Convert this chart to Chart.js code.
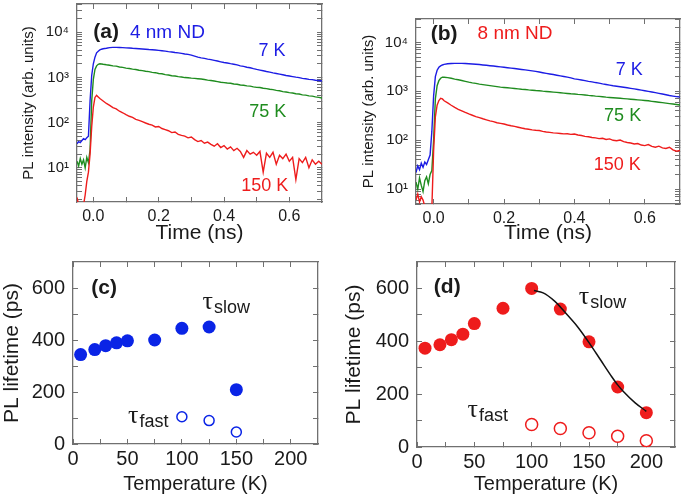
<!DOCTYPE html>
<html>
<head>
<meta charset="utf-8">
<script src="https://cdn.jsdelivr.net/npm/chart.js@4.4.1/dist/chart.umd.min.js"></script>
<style>
  body { margin: 0; background: #fff; }
  #wrap { position: relative; width: 685px; height: 501px; }
  canvas { position: absolute; }
</style>
</head>
<body>
<div id="wrap">
  <canvas id="panelA" width="340" height="250" style="left:0;top:0"></canvas>
  <canvas id="panelB" width="345" height="250" style="left:340px;top:0"></canvas>
  <canvas id="panelC" width="340" height="251" style="left:0;top:250px"></canvas>
  <canvas id="panelD" width="345" height="251" style="left:340px;top:250px"></canvas>
</div>
<script>
// time grid of the decay traces (ns)
const timeNs = [-0.05,-0.045,-0.04,-0.035,-0.03,-0.025,-0.02,-0.015,-0.01,-0.005,0,0.005,0.01,0.015,0.02,0.025,0.03,
  0.04,0.05,0.06,0.07,0.08,0.09,0.10,0.11,0.12,0.13,0.14,0.15,0.16,0.17,0.18,0.19,0.20,
  0.21,0.22,0.23,0.24,0.25,0.26,0.27,0.28,0.29,0.30,0.31,0.32,0.33,0.34,0.35,0.36,0.37,0.38,0.39,0.40,
  0.41,0.42,0.43,0.44,0.45,0.46,0.47,0.48,0.49,0.50,0.51,0.52,0.53,0.54,0.55,0.56,0.57,0.58,0.59,0.60,
  0.61,0.62,0.63,0.64,0.65,0.66,0.67,0.68,0.69,0.70];

// (a) 4 nm ND
const a7K = [34,38,36,40,44,42,46,50,300,1100,2000,2800,3500,3800,4050,4200,4300,
  4400,4550,4600,4620,4590,4560,4500,4460,4400,4360,4300,4250,4200,4130,4080,4020,3950,
  3880,3810,3720,3650,3560,3490,3400,3300,3220,3100,2950,2800,2700,2630,2540,2470,2380,2300,2210,2130,
  2080,2010,1950,1890,1800,1750,1680,1630,1560,1500,1450,1400,1350,1310,1260,1220,1180,1140,1100,1070,
  1040,1010,985,950,930,905,890,865,850,830];
const a75K = [14,11,16,12,15,10,17,13,25,300,900,1500,1800,1950,2000,1980,1950,
  1900,1860,1800,1770,1700,1660,1600,1570,1520,1490,1440,1410,1370,1340,1290,1270,1220,
  1200,1150,1130,1090,1070,1040,1020,990,980,960,950,935,920,895,870,855,830,805,780,765,
  750,740,715,705,680,670,650,640,615,600,595,575,565,545,535,515,505,485,475,460,
  450,435,428,410,405,390,385,370,362,350];
const a150K = [2.2,1.5,1.2,1.3,1.5,2.5,5,8,20,80,220,360,400,370,340,320,300,
  265,240,215,200,178,165,150,138,130,118,112,105,98,92,88,80,82,
  74,70,66,60,62,55,52,50,46,48,42,38,40,35,37,33,30,34,28,31,
  26,29,24,27,23,17,24,20,22,19,23,8,21,17,22,12,19,16,20,14,
  17,5.5,16,13,17,10,15,12,14,12];

// (b) 8 nm ND
const b7K = [22,30,25,34,28,36,32,40,50,150,800,2000,2700,3100,3300,3450,3550,
  3650,3700,3720,3730,3720,3700,3660,3620,3570,3520,3460,3400,3340,3280,3220,3160,3100,
  3040,2980,2920,2860,2800,2740,2680,2620,2550,2480,2400,2330,2260,2200,2130,2070,2010,1950,1880,1800,
  1750,1700,1650,1600,1560,1510,1470,1420,1380,1340,1300,1270,1240,1210,1180,1150,1120,1090,1060,1030,
  1000,970,940,910,880,850,820,800,780,760];
const b75K = [14,10,17,12,9,15,18,13,20,24,100,700,1300,1650,1850,1950,1940,
  1900,1850,1780,1720,1660,1600,1540,1490,1450,1400,1370,1340,1310,1280,1250,1220,1200,
  1180,1160,1140,1120,1100,1090,1070,1055,1040,1030,1010,995,980,965,950,935,920,905,890,880,
  865,855,840,825,815,800,790,775,760,750,740,730,720,710,700,690,680,670,660,650,
  640,625,612,600,588,575,562,550,538,525];
const b150K = [6,8,5.5,7,6,4.5,4,3,3,4,60,300,520,650,720,700,640,
  580,520,470,430,400,370,345,325,305,290,275,262,250,240,228,222,215,
  205,198,192,185,178,172,168,163,160,158,152,148,145,142,140,138,135,136,132,134,
  128,125,120,118,114,112,108,110,104,107,100,98,101,94,90,88,84,86,80,78,
  82,75,72,76,70,68,72,64,60,62];

// (c) lifetimes, 4 nm ND
const tempC = [7,20,30,40,50,75,100,125,150];
const slowC = [344,363,378,389,397,400,445,450,209];
const tempFastC = [100,125,150];
const fastC = [105,90,46];

// (d) lifetimes, 8 nm ND
const tempD = [7,20,30,40,50,75,100,125,150,175,200];
const slowD = [374,387,406,427,467,525,600,522,398,227,130];
const tempFastD = [100,125,150,175,200];
const fastD = [85,70,54,41,24];
const fitTempD = [102,110,120,125,130,140,150,160,170,175,180,190,200];
const fitD = [592,583,552,530,505,455,395,330,265,235,210,168,135];

// ticks (labelled + unlabelled minor)
const timeTicks = [0, 0.2, 0.4, 0.6];
const timeMinor = [0.1, 0.3, 0.5];
const logTicks = [10, 100, 1000, 10000];
const logMinor = [2,3,4,5,6,7,8,9,20,30,40,50,60,70,80,90,200,300,400,500,600,700,800,900,
  2000,3000,4000,5000,6000,7000,8000,9000,20000,30000,40000];
const tempTicks = [0, 50, 100, 150, 200];
const tempMinor = [25, 75, 125, 175];
const lifeTicks = [0, 200, 400, 600];
const lifeMinor = [100, 300, 500];

const SANS = 'Liberation Sans, Arial, sans-serif';
const BLUE = '#1c1ce4', GREEN = '#1f8c1f', RED = '#ee1c1c', INK = '#1a1a1a', FRAME = '#707070';
const SUP = {10: '10\u00b9', 100: '10\u00b2', 1000: '10\u00b3', 10000: '10\u2074'};

const pts = (xs, ys) => xs.map((x, i) => ({x, y: ys[i]}));

// text annotations placed in data coordinates
const textPlugin = {
  id: 'notes',
  afterDraw(chart) {
    const {ctx, scales} = chart;
    ctx.save();
    chart.$notes.forEach(it => {
      const x = scales.x.getPixelForValue(it.x);
      const y = scales.y.getPixelForValue(it.y);
      ctx.fillStyle = it.color || INK;
      if (it.sub) {
        ctx.textAlign = 'left';
        ctx.textBaseline = 'alphabetic';
        ctx.font = '26px Liberation Serif, Times New Roman, serif';
        ctx.fillText('\u03c4', x, y);
        const w = ctx.measureText('\u03c4').width;
        ctx.font = '18px ' + SANS;
        ctx.fillText(it.sub, x + w + 1, y + 4);
      } else {
        ctx.textAlign = it.align || 'center';
        ctx.textBaseline = 'middle';
        ctx.font = (it.bold ? 'bold ' : '') + (it.size || 18) + 'px ' + SANS;
        ctx.fillText(it.text, x, y);
      }
    });
    ctx.restore();
  }
};
let pendingNotes = [];
const storePlugin = {id: 'store', beforeInit(c) { c.$notes = pendingNotes; }};

// axis box sizes are fixed so the plot area lands where the figure has it
const fixY = w => s => { s.width = w; s.paddingTop = 0; s.paddingBottom = 0; };
const fixX = h => s => { s.height = h; s.paddingLeft = 0; s.paddingRight = 0; };
const setTicks = vals => s => {
  s.ticks = vals.filter(v => v >= s.min && v <= s.max).map(v => ({value: v}));
};

// the frame: every side is an axis with its border shown and inward tick marks
const frameGrid = {display: true, drawOnChartArea: false, drawTicks: true, tickLength: -5, color: FRAME, lineWidth: 1};
const frameBorder = {display: true, color: FRAME, width: 1.3};

function axis(base, position, tickVals, size, labelled) {
  const horiz = position === 'top' || position === 'bottom';
  return Object.assign({
    position,
    afterBuildTicks: setTicks(tickVals),
    afterFit: horiz ? fixX(size) : fixY(size),
    grid: frameGrid,
    border: frameBorder
  }, base, labelled ? {} : {ticks: {display: false}, title: {display: false}});
}

function makeChart(id, type, datasets, box, xBase, yBase, xVals, yVals, notes) {
  pendingNotes = notes;
  return new Chart(document.getElementById(id), {
    type,
    data: {datasets},
    options: {
      responsive: false,
      animation: false,
      devicePixelRatio: 1,
      layout: {padding: {left: 0, top: box.top, right: box.right, bottom: 0}},
      plugins: {legend: {display: false}, tooltip: {enabled: false}},
      scales: {
        x: axis(xBase, 'bottom', xVals, box.xh, true),
        x2: axis(xBase, 'top', xVals, 0, false),
        y: axis(yBase, 'left', yVals, box.yw, true),
        y2: axis(yBase, 'right', yVals, 0, false)
      }
    },
    plugins: [storePlugin, textPlugin]
  });
}

function decayChart(id, traces, yMin, yMax, box, notes) {
  const datasets = traces.map(t => ({
    data: pts(timeNs, t.values),
    borderColor: t.color,
    borderWidth: 1.4,
    pointRadius: 0,
    tension: 0
  }));
  const xBase = {
    type: 'linear', min: -0.05, max: 0.7,
    ticks: {autoSkip: false, maxRotation: 0, padding: 10, color: INK, font: {family: SANS, size: 16},
      callback: v => timeTicks.includes(v) ? v.toFixed(1) : ''},
    title: {display: true, text: 'Time (ns)', color: INK, font: {family: SANS, size: 21}, padding: {top: 0, bottom: 4}}
  };
  const yBase = {
    type: 'logarithmic', min: yMin, max: yMax,
    ticks: {autoSkip: false, padding: 13, color: INK, font: {family: SANS, size: 15},
      callback: v => SUP[v] || ''},
    title: {display: true, text: 'PL intensity (arb. units)', color: INK, font: {family: SANS, size: 15}, padding: {top: 20, bottom: 0}}
  };
  return makeChart(id, 'line', datasets, box, xBase, yBase,
    timeTicks.concat(timeMinor), logTicks.concat(logMinor), notes);
}

function lifetimeChart(id, datasets, box, notes) {
  const xBase = {
    type: 'linear', min: 0, max: 225,
    ticks: {autoSkip: false, maxRotation: 0, padding: 8, color: INK, font: {family: SANS, size: 20},
      callback: v => tempTicks.includes(v) ? String(v) : ''},
    title: {display: true, text: 'Temperature (K)', color: INK, font: {family: SANS, size: 20}, padding: {top: 0, bottom: 5}}
  };
  const yBase = {
    type: 'linear', min: 0, max: 700,
    ticks: {autoSkip: false, padding: 13, color: INK, font: {family: SANS, size: 20},
      callback: v => lifeTicks.includes(v) ? String(v) : ''},
    title: {display: true, text: 'PL lifetime (ps)', color: INK, font: {family: SANS, size: 21}, padding: {top: box.tp, bottom: 0}}
  };
  return makeChart(id, 'scatter', datasets, box, xBase, yBase,
    tempTicks.concat(tempMinor), lifeTicks.concat(lifeMinor), notes);
}

decayChart('panelA', [
  {values: a150K, color: RED},
  {values: a75K, color: GREEN},
  {values: a7K, color: BLUE}
], 1.75, 42000, {top: 4, right: 18, yw: 77, xh: 48}, [
  {text: '(a)', x: 0.0, y: 9800, bold: true, size: 21, align: 'left'},
  {text: '4 nm ND', x: 0.112, y: 9800, color: BLUE, size: 19, align: 'left'},
  {text: '7 K', x: 0.547, y: 3850, color: BLUE},
  {text: '75 K', x: 0.534, y: 171, color: GREEN},
  {text: '150 K', x: 0.525, y: 3.9, color: RED}
]);

decayChart('panelB', [
  {values: b150K, color: RED},
  {values: b75K, color: GREEN},
  {values: b7K, color: BLUE}
], 5, 30000, {top: 19, right: 5, yw: 76, xh: 46}, [
  {text: '(b)', x: -0.008, y: 15000, bold: true, size: 21, align: 'left'},
  {text: '8 nm ND', x: 0.125, y: 15000, color: RED, size: 19, align: 'left'},
  {text: '7 K', x: 0.556, y: 2720, color: BLUE},
  {text: '75 K', x: 0.537, y: 306, color: GREEN},
  {text: '150 K', x: 0.522, y: 30.6, color: RED}
]);

const CBLUE = '#0a24e6';
lifetimeChart('panelC', [
  {data: pts(tempC, slowC), pointRadius: 6.5, pointBackgroundColor: CBLUE, pointBorderColor: CBLUE, pointBorderWidth: 0},
  {data: pts(tempFastC, fastC), pointRadius: 5, pointBackgroundColor: '#ffffff', pointBorderColor: CBLUE, pointBorderWidth: 1.5}
], {top: 12, right: 22, yw: 73, xh: 57, tp: 0}, [
  {text: '(c)', x: 28.6, y: 600, bold: true, size: 21},
  {sub: 'slow', x: 119, y: 519},
  {sub: 'fast', x: 50.6, y: 81}
]);

lifetimeChart('panelD', [
  {data: pts(fitTempD, fitD), showLine: true, borderColor: '#111', borderWidth: 1.5, pointRadius: 0, cubicInterpolationMode: 'monotone'},
  {data: pts(tempD, slowD), pointRadius: 6.5, pointBackgroundColor: RED, pointBorderColor: RED, pointBorderWidth: 0},
  {data: pts(tempFastD, fastD), pointRadius: 6, pointBackgroundColor: '#ffffff', pointBorderColor: RED, pointBorderWidth: 1.5}
], {top: 12, right: 10, yw: 77, xh: 54, tp: 2}, [
  {text: '(d)', x: 26.4, y: 604, bold: true, size: 21},
  {sub: 'slow', x: 141, y: 541},
  {sub: 'fast', x: 44, y: 112}
]);
</script>
</body>
</html>
